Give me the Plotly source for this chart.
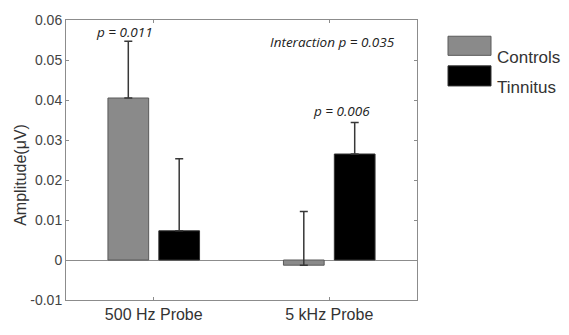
import plotly.graph_objects as go

# Mean evoked amplitude per probe condition, with upward SEM bars
probes = ["500 Hz Probe", "5 kHz Probe"]
controls_mean = [0.0405, -0.0013]
controls_err = [0.0142, 0.0134]
tinnitus_mean = [0.0073, 0.0265]
tinnitus_err = [0.0180, 0.0079]
y_ticks = [-0.01, 0, 0.01, 0.02, 0.03, 0.04, 0.05, 0.06]
y_tick_text = ["-0.01", "0", "0.01", "0.02", "0.03", "0.04", "0.05", "0.06"]

fig = go.Figure()
fig.add_trace(go.Bar(
    x=probes, y=controls_mean, name="Controls",
    marker=dict(color="#8a8a8a", line=dict(color="#5a5a5a", width=1)),
    error_y=dict(type="data", symmetric=False, array=controls_err,
                 arrayminus=[0, 0], color="#383838", thickness=1.5, width=4),
    showlegend=False,
))
fig.add_trace(go.Bar(
    x=probes, y=tinnitus_mean, name="Tinnitus",
    marker=dict(color="#000000", line=dict(color="#333333", width=1)),
    error_y=dict(type="data", symmetric=False, array=tinnitus_err,
                 arrayminus=[0, 0], color="#383838", thickness=1.5, width=4),
    showlegend=False,
))

axis_line = "#8c8c8c"
fig.update_layout(
    width=569, height=335,
    margin=dict(l=66, r=152, t=18, b=24),
    paper_bgcolor="white", plot_bgcolor="white",
    barmode="group", bargap=0.42, bargroupgap=0.2,
    font=dict(family="Liberation Sans, Arial, sans-serif", color="#333333"),
    xaxis=dict(
        range=[-0.5, 1.5], showline=True, linecolor=axis_line, linewidth=1,
        mirror="ticks", ticks="inside", ticklen=3, tickcolor=axis_line,
        tickfont=dict(size=16, color="#333333"), showgrid=False,
    ),
    yaxis=dict(
        range=[-0.01, 0.06], tickvals=y_ticks, ticktext=y_tick_text,
        showline=True, linecolor=axis_line, linewidth=1,
        mirror="ticks", ticks="inside", ticklen=3, tickcolor=axis_line,
        tickfont=dict(size=14, color="#444444"), showgrid=False,
        zeroline=True, zerolinecolor="#8c8c8c", zerolinewidth=1,
    ),
)

# Y-axis title placed as rotated text
fig.add_annotation(xref="paper", yref="paper", x=-45 / 351, y=1 - (180 - 18) / 293,
                   xanchor="center", yanchor="middle",
                   text="Amplitude(μV)", textangle=-90, showarrow=False,
                   font=dict(size=16, color="#333333"))

# p-value labels
note_font = dict(family="Open Sans, sans-serif", size=13.5, color="#222222")
fig.add_annotation(x=-0.165, y=0.057, xref="x", yref="y", text="<i>p = 0.011</i>",
                   showarrow=False, font=note_font)
fig.add_annotation(x=1.07, y=0.0372, xref="x", yref="y", text="<i>p = 0.006</i>",
                   showarrow=False, font=note_font)
fig.add_annotation(x=1.02, y=0.0545, xref="x", yref="y", text="<i>Interaction p = 0.035</i>",
                   showarrow=False, font=note_font)

# Legend swatches and labels
legend_items = [("Controls", "#8a8a8a", "#5a5a5a", 35, 55), ("Tinnitus", "#000000", "#333333", 66, 87)]
for label, fill, edge, y0, y1 in legend_items:
    fig.add_shape(type="rect", xref="paper", yref="paper",
                  x0=(448 - 66) / 351, x1=(491 - 66) / 351,
                  y0=1 - (y1 - 18) / 293, y1=1 - (y0 - 18) / 293,
                  fillcolor=fill, line=dict(color=edge, width=1))
    fig.add_annotation(xref="paper", yref="paper", x=(495 - 66) / 351,
                       y=1 - ((y0 + y1) / 2 - 18) / 293, xanchor="left",
                       text=label, showarrow=False,
                       font=dict(size=17, color="#333333"))

fig.write_html("out.html")
